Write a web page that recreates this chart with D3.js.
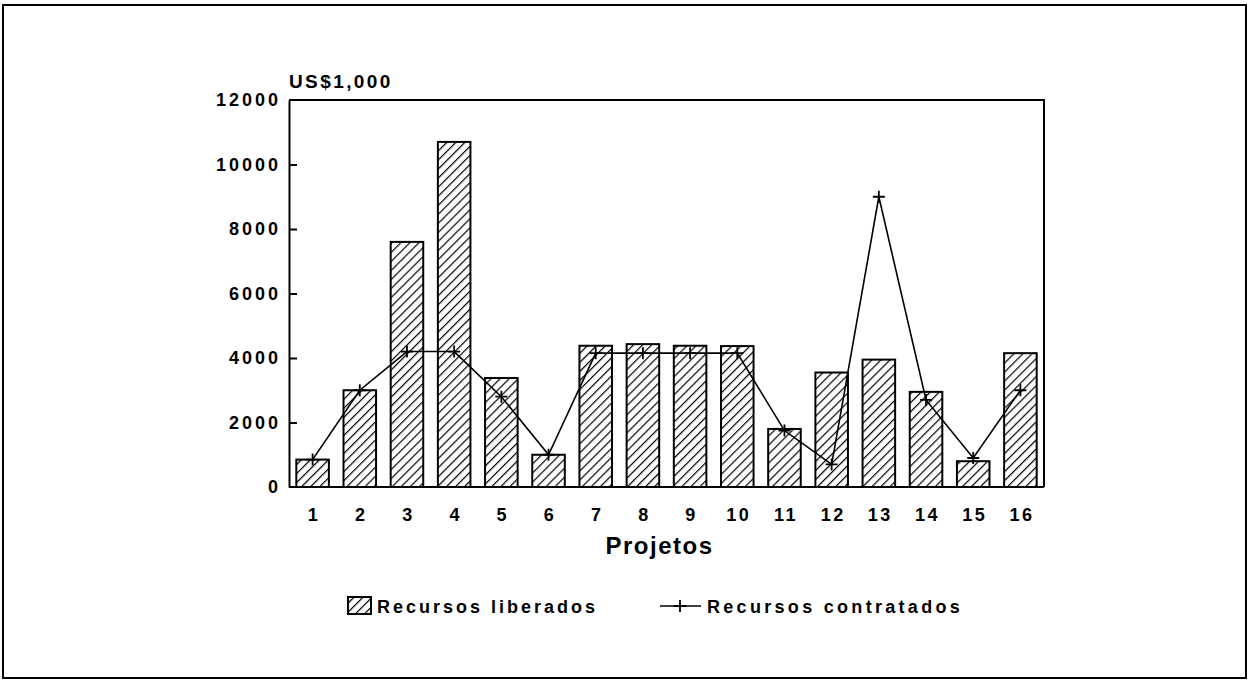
<!DOCTYPE html>
<html>
<head>
<meta charset="utf-8">
<script src="https://cdn.jsdelivr.net/npm/d3@7"></script>
<style>
  html, body { margin: 0; padding: 0; background: #fff; }
  svg { display: block; }
  text { font-family: "Liberation Sans", Arial, sans-serif; fill: #000; }
</style>
</head>
<body>
<svg id="chart" width="1249" height="681"></svg>
<script>
// Projects and amounts (US$1,000)
const projetos = ["1","2","3","4","5","6","7","8","9","10","11","12","13","14","15","16"];
const recursosLiberados = [850, 3000, 7600, 10700, 3380, 1000, 4380, 4430, 4380, 4370, 1800, 3550, 3950, 2950, 800, 4150];
const recursosContratados = [850, 3000, 4200, 4200, 2800, 1000, 4150, 4150, 4150, 4150, 1750, 700, 9000, 2700, 900, 3000];
const yTicks = [0, 2000, 4000, 6000, 8000, 10000, 12000];
const unitLabel = "US$1,000";
const xTitle = "Projetos";
const legendLabels = ["Recursos liberados", "Recursos contratados"];

const svg = d3.select("#chart");
const plot = { left: 289, right: 1044, top: 100, bottom: 487 };

// diagonal hatch fill for the bars
const defs = svg.append("defs");
const pat = defs.append("pattern")
  .attr("id", "hatch")
  .attr("patternUnits", "userSpaceOnUse")
  .attr("width", 6.4).attr("height", 6.4)
  .attr("patternTransform", "rotate(45)");
pat.append("rect").attr("width", 6.4).attr("height", 6.4).attr("fill", "#fff");
pat.append("line")
  .attr("x1", 0).attr("y1", 0).attr("x2", 0).attr("y2", 6.4)
  .attr("stroke", "#000").attr("stroke-width", 2.4);

// outer frame
svg.append("rect")
  .attr("x", 3).attr("y", 5).attr("width", 1243).attr("height", 673)
  .attr("fill", "none").attr("stroke", "#000").attr("stroke-width", 2);

const x = d3.scaleBand()
  .domain(projetos)
  .range([plot.left, plot.right])
  .paddingInner(0.31)
  .paddingOuter(0.155);

const y = d3.scaleLinear()
  .domain([0, 12000])
  .range([plot.bottom, plot.top]);

// bars
svg.append("g").selectAll("rect")
  .data(recursosLiberados)
  .join("rect")
  .attr("x", (d, i) => x(projetos[i]))
  .attr("y", d => y(d))
  .attr("width", x.bandwidth())
  .attr("height", d => y(0) - y(d))
  .attr("fill", "url(#hatch)")
  .attr("stroke", "#000")
  .attr("stroke-width", 2);

// plot box: top and right edges
svg.append("path")
  .attr("d", `M${plot.left},${plot.top}H${plot.right}V${plot.bottom}`)
  .attr("fill", "none").attr("stroke", "#000").attr("stroke-width", 2);

// y axis with inward ticks
const yAxis = d3.axisLeft(y)
  .tickValues(yTicks)
  .tickSizeInner(-8)
  .tickSizeOuter(0)
  .tickPadding(8)
  .tickFormat(d3.format("d"));
const gy = svg.append("g")
  .attr("transform", `translate(${plot.left},0)`)
  .call(yAxis);
gy.select(".domain").attr("stroke", "#000").attr("stroke-width", 2);
gy.selectAll(".tick line").attr("stroke", "#000").attr("stroke-width", 2)
  .filter(d => d === 0 || d === 12000).remove();
gy.selectAll(".tick text")
  .attr("font-family", "Liberation Sans, Arial, sans-serif")
  .attr("font-size", 18).attr("font-weight", "bold")
  .attr("letter-spacing", "3px")
  .attr("fill", "#000");

// x axis
const xAxis = d3.axisBottom(x).tickSize(0).tickPadding(21);
const gx = svg.append("g")
  .attr("transform", `translate(0,${plot.bottom})`)
  .call(xAxis);
gx.select(".domain").attr("stroke", "#000").attr("stroke-width", 2)
  .attr("d", `M${plot.left},0H${plot.right}`);
gx.selectAll(".tick text")
  .attr("font-family", "Liberation Sans, Arial, sans-serif")
  .attr("font-size", 18).attr("font-weight", "bold")
  .attr("letter-spacing", "2.5px")
  .attr("dx", 1.5)
  .attr("fill", "#000");

// contracted resources line with plus markers
const cx = (d, i) => x(projetos[i]) + x.bandwidth() / 2;
const line = d3.line().x(cx).y(d => y(d));
svg.append("path")
  .datum(recursosContratados)
  .attr("d", line)
  .attr("fill", "none").attr("stroke", "#000").attr("stroke-width", 1.6);

svg.append("g").selectAll("path")
  .data(recursosContratados)
  .join("path")
  .attr("transform", (d, i) => `translate(${cx(d, i)},${y(d)})`)
  .attr("d", "M-6,0H6M0,-6V6")
  .attr("fill", "none").attr("stroke", "#000").attr("stroke-width", 1.8);

// unit label
svg.append("text")
  .attr("x", plot.left).attr("y", 88)
  .attr("font-size", 19).attr("font-weight", "bold")
  .attr("letter-spacing", "2.4px")
  .text(unitLabel);

// x title
svg.append("text")
  .attr("x", (plot.left + plot.right) / 2 - 7).attr("y", 554)
  .attr("text-anchor", "middle")
  .attr("font-size", 24).attr("font-weight", "bold")
  .attr("letter-spacing", "1.5px")
  .text(xTitle);

// legend
const lg = svg.append("g");
lg.append("rect")
  .attr("x", 348).attr("y", 597).attr("width", 23).attr("height", 17)
  .attr("fill", "url(#hatch)").attr("stroke", "#000").attr("stroke-width", 2);
lg.append("text")
  .attr("x", 377).attr("y", 613)
  .attr("font-size", 18).attr("font-weight", "bold")
  .attr("letter-spacing", "3px")
  .text(legendLabels[0]);
lg.append("path")
  .attr("d", "M660,606H701")
  .attr("stroke", "#000").attr("stroke-width", 1.6);
lg.append("path")
  .attr("d", "M674,606H686M680,600V612")
  .attr("stroke", "#000").attr("stroke-width", 1.8);
lg.append("text")
  .attr("x", 707).attr("y", 613)
  .attr("font-size", 18).attr("font-weight", "bold")
  .attr("letter-spacing", "3.3px")
  .text(legendLabels[1]);
</script>
</body>
</html>
